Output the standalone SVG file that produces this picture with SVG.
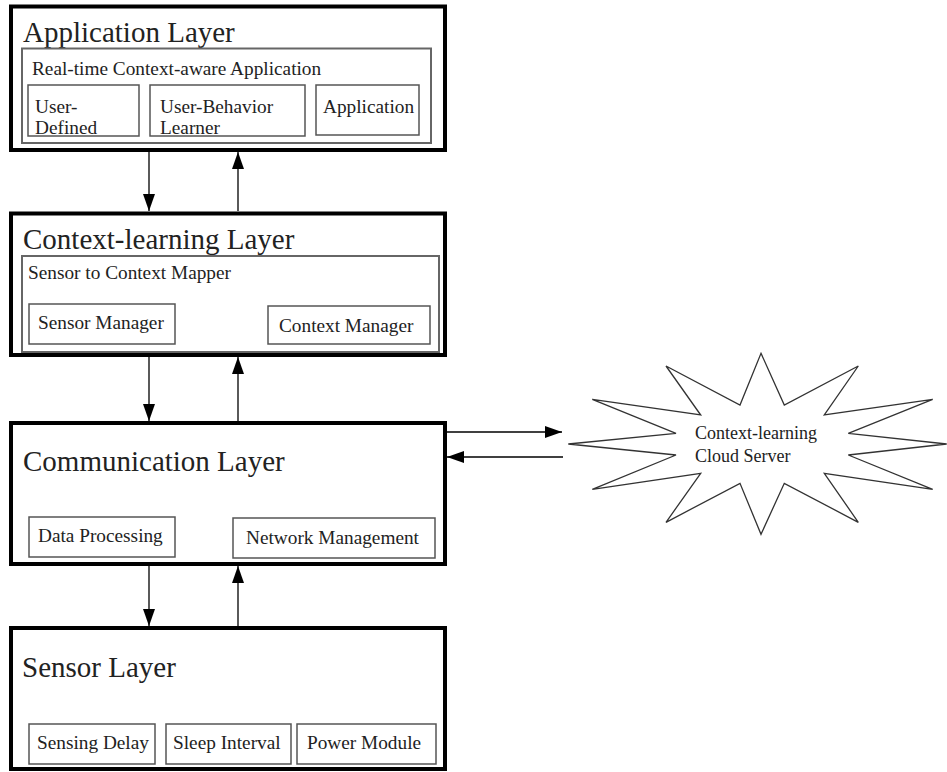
<svg xmlns="http://www.w3.org/2000/svg" width="947" height="772" viewBox="0 0 947 772">
<style>
  text { font-family: "Liberation Serif", "Times New Roman", serif; fill: #222; }
  .layer { fill: #fff; stroke: #000; stroke-width: 4; }
  .panel { fill: none; stroke: #666; stroke-width: 2; }
  .box { fill: #fff; stroke: #555; stroke-width: 1.5; }
  .title { font-size: 29px; }
  .lbl { font-size: 19.3px; }
  .cloud { font-size: 18px; }
  .conn { stroke: #000; stroke-width: 1.3; fill: none; marker-end: url(#ah); }
</style>
<defs>
  <marker id="ah" viewBox="0 0 17 12" refX="17" refY="6" markerWidth="17" markerHeight="12" markerUnits="userSpaceOnUse" orient="auto">
    <path d="M0,0 L17,6 L0,12 Z" fill="#000"/>
  </marker>
</defs>
<rect width="947" height="772" fill="#fff"/>

<g id="application-layer">
  <rect class="layer" x="11" y="6.5" width="434" height="143.5"/>
  <text class="title" x="23" y="42">Application Layer</text>
  <g id="realtime-app">
    <rect class="panel" x="22" y="48.5" width="409" height="94.5"/>
    <text class="lbl" x="32" y="75">Real-time Context-aware Application</text>
  </g>
  <g id="user-defined">
    <rect class="box" x="28" y="85" width="111" height="51"/>
    <text class="lbl" x="35" y="113">User-</text>
    <text class="lbl" x="35" y="134">Defined</text>
  </g>
  <g id="user-behavior-learner">
    <rect class="box" x="150" y="85" width="155" height="51"/>
    <text class="lbl" x="160" y="113">User-Behavior</text>
    <text class="lbl" x="160" y="134">Learner</text>
  </g>
  <g id="application">
    <rect class="box" x="316" y="85" width="103" height="50"/>
    <text class="lbl" x="323" y="113">Application</text>
  </g>
</g>

<g id="context-learning-layer">
  <rect class="layer" x="11" y="213.5" width="434" height="141.5"/>
  <text class="title" x="23" y="249">Context-learning Layer</text>
  <g id="sensor-context-mapper">
    <rect class="panel" x="22" y="256" width="417" height="96"/>
    <text class="lbl" x="28" y="279">Sensor to Context Mapper</text>
  </g>
  <g id="sensor-manager">
    <rect class="box" x="29" y="304" width="146" height="40"/>
    <text class="lbl" x="38" y="329">Sensor Manager</text>
  </g>
  <g id="context-manager">
    <rect class="box" x="268" y="306" width="162" height="38"/>
    <text class="lbl" x="279" y="331.5">Context Manager</text>
  </g>
</g>

<g id="communication-layer">
  <rect class="layer" x="11" y="423" width="434" height="141"/>
  <text class="title" x="23" y="471">Communication Layer</text>
  <g id="data-processing">
    <rect class="box" x="29" y="517" width="146" height="40"/>
    <text class="lbl" x="38" y="542">Data Processing</text>
  </g>
  <g id="network-management">
    <rect class="box" x="233" y="518" width="202" height="40"/>
    <text class="lbl" x="246" y="544">Network Management</text>
  </g>
</g>

<g id="sensor-layer">
  <rect class="layer" x="11" y="628" width="434" height="141"/>
  <text class="title" x="22" y="677">Sensor Layer</text>
  <g id="sensing-delay">
    <rect class="box" x="29" y="724" width="126" height="40"/>
    <text class="lbl" x="37" y="749">Sensing Delay</text>
  </g>
  <g id="sleep-interval">
    <rect class="box" x="166" y="724" width="125" height="40"/>
    <text class="lbl" x="173" y="749">Sleep Interval</text>
  </g>
  <g id="power-module">
    <rect class="box" x="297" y="724" width="139" height="40"/>
    <text class="lbl" x="307" y="749">Power Module</text>
  </g>
</g>

<g id="cloud-server">
  <polygon fill="#fff" stroke="#333" stroke-width="1.3" points="761,353.3 784.3,405 858.3,366 824.3,415 932.7,399.3 848.3,433.3 946.7,444 848.3,455 932.7,489.3 824.3,473.3 858.3,522.3 784.3,483.3 761,534.3 740,483.3 666,522.3 700.7,473.3 592.3,489.3 676,455 568.3,444 676,433.3 592.3,399.3 700.7,415 666,366 740,405"/>
  <text class="cloud" x="695" y="439">Context-learning</text>
  <text class="cloud" x="695" y="461.5">Cloud Server</text>
</g>

<g id="connectors">
  <line class="conn" x1="149" y1="152" x2="149" y2="211"/>
  <line class="conn" x1="238" y1="211" x2="238" y2="152"/>
  <line class="conn" x1="149" y1="357" x2="149" y2="421"/>
  <line class="conn" x1="238" y1="421" x2="238" y2="357"/>
  <line class="conn" x1="149" y1="566" x2="149" y2="626"/>
  <line class="conn" x1="238" y1="626" x2="238" y2="566"/>
  <line class="conn" x1="447" y1="432" x2="562" y2="432"/>
  <line class="conn" x1="563" y1="457" x2="447" y2="457"/>
</g>
</svg>
